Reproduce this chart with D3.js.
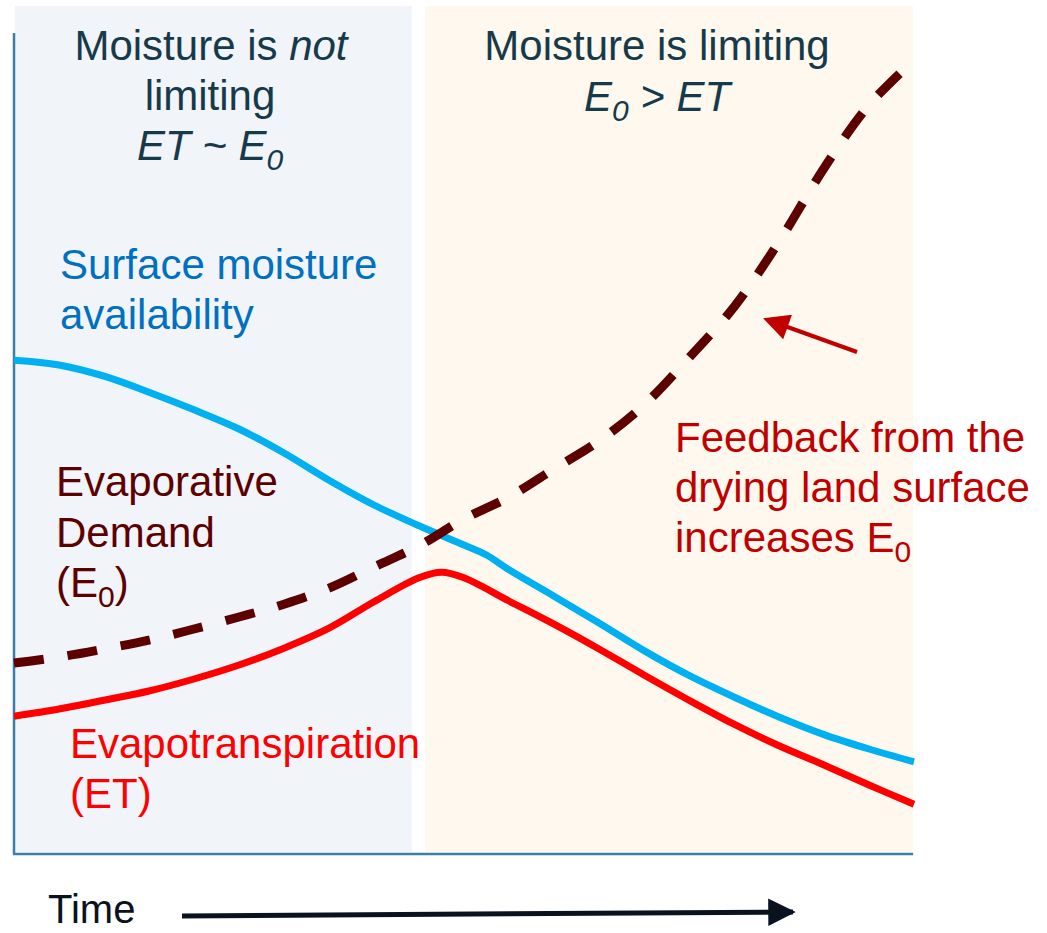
<!DOCTYPE html>
<html>
<head>
<meta charset="utf-8">
<script src="https://cdn.jsdelivr.net/npm/d3@7"></script>
<style>
  body { margin: 0; background: #ffffff; }
  text { font-family: "Liberation Sans", Arial, sans-serif; }
</style>
</head>
<body>
<svg id="grafico" width="1047" height="933"></svg>
<script>
// tiempo (0-100) y magnitud relativa (0-100)
var tiempos = [0, 5, 10, 15, 20, 25, 30, 35, 40, 45, 50, 52.5, 55, 60, 65, 70, 75, 80, 85, 90, 95, 100];
var humedad = [61.6, 61.0, 59.6, 57.6, 55.4, 53, 50, 46.6, 43.5, 40.9, 38.5, 37.25, 35.4, 32.1, 28.75, 25.3, 22.2, 19.5, 17.0, 14.8, 13.0, 11.4];

var tiemposET = [0, 5, 10, 15, 20, 25, 30, 35, 40, 45, 47.5, 50, 55, 60, 65, 70, 75, 80, 85, 90, 95, 100];
var evapotranspiracion = [17.1, 18, 19.1, 20.25, 21.75, 23.5, 25.6, 28.1, 31.4, 34.4, 35.1, 34.4, 31.5, 28.6, 25.5, 22.25, 19.1, 16.1, 13.4, 11, 8.5, 6.1];

var tiemposE0 = [0, 5, 10, 15, 20, 25, 30, 35, 40, 45, 50, 55, 60, 65, 70, 75, 80, 85, 90, 95, 100];
var demanda = [23.75, 24.5, 25.5, 26.6, 28, 29.5, 31.1, 33.1, 35.75, 38.4, 41.75, 44.5, 48, 51.5, 56, 61.9, 68.25, 76.4, 85.6, 93.5, 99.1];

// periodos de fondo
var periodos = [
    { inicio: 0.1, fin: 44.2, color: "#f1f4f9" },
    { inicio: 45.7, fin: 99.9, color: "#fef8ee" }
];

var svg = d3.select("#grafico");

var x = d3.scaleLinear().domain([0, 100]).range([14, 914]);
var y = d3.scaleLinear().domain([0, 100]).range([853, 53]);

// fondos
svg.selectAll("rect.periodo")
    .data(periodos)
    .enter()
    .append("rect")
    .attr("class", "periodo")
    .attr("x", function (d) { return x(d.inicio); })
    .attr("y", 6)
    .attr("width", function (d) { return x(d.fin) - x(d.inicio); })
    .attr("height", 846)
    .attr("fill", function (d) { return d.color; });

// ejes
svg.append("line")
    .attr("x1", 14).attr("x2", 14)
    .attr("y1", 33).attr("y2", 854)
    .attr("stroke", "#3b7fa6").attr("stroke-width", 2.5);
svg.append("line")
    .attr("x1", 13).attr("x2", x(99.9))
    .attr("y1", 854).attr("y2", 854)
    .attr("stroke", "#3b7fa6").attr("stroke-width", 2.5);

function linea(ts, vs) {
    return d3.line()
        .x(function (d, i) { return x(ts[i]); })
        .y(function (d) { return y(d); })
        .curve(d3.curveCatmullRom.alpha(0.5))(vs);
}

svg.append("path")
    .attr("d", linea(tiempos, humedad))
    .attr("fill", "none")
    .attr("stroke", "#00b0f0")
    .attr("stroke-width", 7);

svg.append("path")
    .attr("d", linea(tiemposET, evapotranspiracion))
    .attr("fill", "none")
    .attr("stroke", "#ff0000")
    .attr("stroke-width", 7);

svg.append("path")
    .attr("d", linea(tiemposE0, demanda))
    .attr("fill", "none")
    .attr("stroke", "#5c0000")
    .attr("stroke-width", 9)
    .attr("stroke-dasharray", "30,24");

// textos
var tam = 42;
function texto(xp, yp, color, anchor) {
    return svg.append("text")
        .attr("x", xp).attr("y", yp)
        .attr("fill", color)
        .attr("font-size", tam)
        .attr("text-anchor", anchor || "start");
}

var t1 = texto(211, 60, "#173a4a", "middle");
t1.append("tspan").text("Moisture is ");
t1.append("tspan").attr("font-style", "italic").text("not");
texto(210, 110, "#173a4a", "middle").text("limiting");
var t3 = texto(210, 160, "#173a4a", "middle").attr("font-style", "italic");
t3.append("tspan").text("ET ~ E");
t3.append("tspan").attr("font-size", 30).attr("dy", 10).text("0");

texto(657, 60, "#173a4a", "middle").text("Moisture is limiting");
var t4 = texto(657, 111, "#173a4a", "middle").attr("font-style", "italic");
t4.append("tspan").text("E");
t4.append("tspan").attr("font-size", 30).attr("dy", 10).text("0");
t4.append("tspan").attr("dy", -10).text(" > ET");

texto(60, 279, "#0070c0").text("Surface moisture");
texto(60, 329, "#0070c0").text("availability");

texto(56, 496, "#5c0000").text("Evaporative");
texto(56, 547, "#5c0000").text("Demand");
var t5 = texto(56, 597, "#5c0000");
t5.append("tspan").text("(E");
t5.append("tspan").attr("font-size", 30).attr("dy", 10).text("0");
t5.append("tspan").attr("dy", -10).text(")");

texto(70, 758, "#ff0000").text("Evapotranspiration");
texto(70, 808, "#ff0000").text("(ET)");

texto(675, 452, "#c00000").text("Feedback from the");
texto(675, 502, "#c00000").text("drying land surface");
var t6 = texto(675, 552, "#c00000");
t6.append("tspan").text("increases E");
t6.append("tspan").attr("font-size", 30).attr("dy", 10).text("0");

// flechas
var defs = svg.append("defs");
defs.append("marker")
    .attr("id", "punta-roja")
    .attr("viewBox", "0 0 10 10")
    .attr("refX", 8).attr("refY", 5)
    .attr("markerWidth", 7).attr("markerHeight", 6.5)
    .attr("markerUnits", "strokeWidth")
    .attr("orient", "auto")
    .append("path").attr("d", "M0,0 L10,5 L0,10 Z").attr("fill", "#c00000");
defs.append("marker")
    .attr("id", "punta-negra")
    .attr("viewBox", "0 0 10 10")
    .attr("refX", 9).attr("refY", 5)
    .attr("markerWidth", 5.5).attr("markerHeight", 5.5)
    .attr("markerUnits", "strokeWidth")
    .attr("orient", "auto")
    .append("path").attr("d", "M0,0 L10,5 L0,10 Z").attr("fill", "#0a1220");

svg.append("line")
    .attr("x1", 857).attr("y1", 352)
    .attr("x2", 768).attr("y2", 320)
    .attr("stroke", "#c00000").attr("stroke-width", 4)
    .attr("marker-end", "url(#punta-roja)");

texto(48, 923, "#0a1220").attr("font-size", 40).text("Time");
svg.append("line")
    .attr("x1", 182).attr("y1", 916)
    .attr("x2", 793).attr("y2", 912)
    .attr("stroke", "#0a1220").attr("stroke-width", 5)
    .attr("marker-end", "url(#punta-negra)");
</script>
</body>
</html>
